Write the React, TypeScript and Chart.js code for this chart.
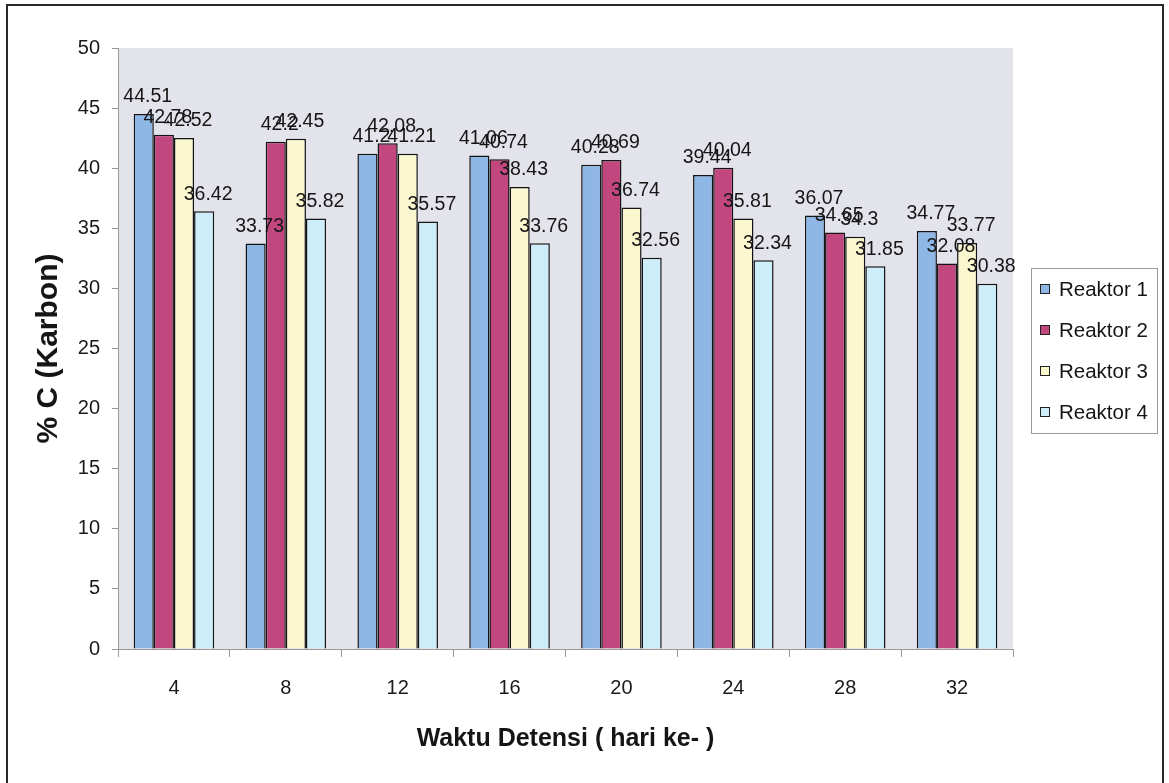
import React, { useEffect, useRef } from "react";
import { Chart, registerables } from "chart.js";

Chart.register(...registerables);

const categories = ["4", "8", "12", "16", "20", "24", "28", "32"];
const seriesNames = ["Reaktor 1", "Reaktor 2", "Reaktor 3", "Reaktor 4"];
const reaktor1 = [44.51, 33.73, 41.2, 41.06, 40.28, 39.44, 36.07, 34.77];
const reaktor2 = [42.78, 42.2, 42.08, 40.74, 40.69, 40.04, 34.65, 32.08];
const reaktor3 = [42.52, 42.45, 41.21, 38.43, 36.74, 35.81, 34.3, 33.77];
const reaktor4 = [36.42, 35.82, 35.57, 33.76, 32.56, 32.34, 31.85, 30.38];
const seriesColors = ["#8fb7e6", "#c2477f", "#fbf7cf", "#cdeef9"];
const yTitle = "% C (Karbon)";
const xTitle = "Waktu Detensi ( hari ke- )";

const FONT = "'Liberation Sans', Arial, sans-serif";

const decorPlugin = {
  id: "decor",
  beforeDraw(chart: any) {
    const { ctx, chartArea } = chart;
    ctx.save();
    ctx.fillStyle = "#e3e3eb";
    ctx.fillRect(chartArea.left, chartArea.top, chartArea.right - chartArea.left, chartArea.bottom - chartArea.top);
    ctx.restore();
  },
  afterDatasetsDraw(chart: any) {
    const { ctx } = chart;
    ctx.save();
    ctx.font = `19.5px ${FONT}`;
    ctx.fillStyle = "#151515";
    ctx.textAlign = "center";
    ctx.textBaseline = "middle";
    chart.data.datasets.forEach((ds: any, i: number) => {
      const meta = chart.getDatasetMeta(i);
      meta.data.forEach((el: any, j: number) => {
        ctx.fillText(String(ds.data[j]), el.x + 4, el.y - 17);
      });
    });
    ctx.restore();
  },
  afterDraw(chart: any) {
    const { ctx, chartArea } = chart;
    ctx.save();
    // outer border
    ctx.strokeStyle = "#2a2a2a";
    ctx.lineWidth = 2;
    ctx.strokeRect(7, 5, 1156, 800);
    // axis titles
    ctx.fillStyle = "#151515";
    ctx.textAlign = "center";
    ctx.textBaseline = "middle";
    ctx.font = `bold 25px ${FONT}`;
    ctx.fillText(xTitle, (chartArea.left + chartArea.right) / 2, 739);
    ctx.save();
    ctx.translate(49, (chartArea.top + chartArea.bottom) / 2);
    ctx.rotate(-Math.PI / 2);
    ctx.font = `bold 30px ${FONT}`;
    ctx.fillText(yTitle, 0, 0);
    ctx.restore();
    // legend
    ctx.strokeStyle = "#9a9a9a";
    ctx.lineWidth = 1;
    ctx.strokeRect(1031.5, 268.5, 126, 165);
    ctx.font = `20.5px ${FONT}`;
    ctx.textAlign = "left";
    chart.data.datasets.forEach((ds: any, i: number) => {
      const cy = 289 + i * 41;
      ctx.fillStyle = ds.backgroundColor;
      ctx.fillRect(1040, cy - 5, 10, 10);
      ctx.strokeStyle = "#222";
      ctx.strokeRect(1040.5, cy - 4.5, 9, 9);
      ctx.fillStyle = "#151515";
      ctx.fillText(ds.label, 1059, cy + 1);
    });
    ctx.restore();
  },
};

export default function App() {
  const ref = useRef<HTMLCanvasElement>(null);
  useEffect(() => {
    const seriesValues = [reaktor1, reaktor2, reaktor3, reaktor4];
    const chart = new Chart(ref.current as HTMLCanvasElement, {
      type: "bar",
      data: {
        labels: categories,
        datasets: seriesNames.map((name, i) => ({
          label: name,
          data: seriesValues[i],
          backgroundColor: seriesColors[i],
          borderColor: "#141414",
          borderWidth: 1.5,
          categoryPercentage: 0.72,
          barPercentage: 1,
        })),
      },
      options: {
        responsive: false,
        animation: false,
        layout: { padding: { left: 0, top: 48, right: 156, bottom: 0 } },
        plugins: { legend: { display: false }, tooltip: { enabled: false } },
        scales: {
          x: {
            grid: { drawOnChartArea: false, tickLength: 8, color: "#999", offset: true },
            border: { color: "#999" },
            ticks: { font: { size: 20, family: FONT }, color: "#1a1a1a", padding: 19 },
            afterFit: (s: any) => { s.height = 134; },
          },
          y: {
            min: 0,
            max: 50,
            ticks: { stepSize: 5, font: { size: 20, family: FONT }, color: "#1a1a1a", padding: 12 },
            grid: { drawOnChartArea: false, tickLength: 6, color: "#999" },
            border: { color: "#999" },
            afterFit: (s: any) => { s.width = 118; },
          },
        },
      },
      plugins: [decorPlugin],
    } as any);
    return () => chart.destroy();
  }, []);
  return (
    <div style={{ position: "absolute", left: 0, top: 0, width: 1169, height: 783, background: "#fff", overflow: "hidden" }}>
      <canvas ref={ref} width={1169} height={783} style={{ display: "block" }} />
    </div>
  );
}
